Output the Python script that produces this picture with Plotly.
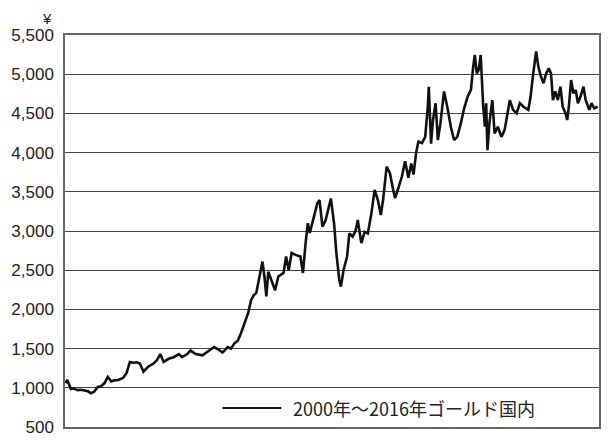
import plotly.graph_objects as go

# gold price in Japan (yen per gram)
years = [
    2000.00, 2000.05, 2000.11, 2000.16, 2000.25, 2000.37, 2000.47, 2000.57, 2000.69, 2000.78,
    2000.88, 2000.99, 2001.09, 2001.20, 2001.30, 2001.41, 2001.50, 2001.62, 2001.77, 2001.88,
    2001.98, 2002.08, 2002.19, 2002.29, 2002.40, 2002.55, 2002.71, 2002.81, 2002.92, 2003.02,
    2003.18, 2003.33, 2003.49, 2003.59, 2003.75, 2003.85, 2004.01, 2004.22, 2004.43, 2004.58,
    2004.74, 2004.84, 2005.00, 2005.10, 2005.21, 2005.31, 2005.41, 2005.52, 2005.63, 2005.72,
    2005.80, 2005.88, 2005.99, 2006.07, 2006.13, 2006.19, 2006.25, 2006.34, 2006.46, 2006.56,
    2006.72, 2006.80, 2006.88, 2006.97, 2007.09, 2007.24, 2007.32, 2007.40, 2007.47, 2007.53,
    2007.63, 2007.76, 2007.83, 2007.92, 2008.02, 2008.09, 2008.18, 2008.28, 2008.35, 2008.44,
    2008.49, 2008.57, 2008.68, 2008.75, 2008.85, 2008.94, 2009.01, 2009.12, 2009.22, 2009.32,
    2009.43, 2009.53, 2009.63, 2009.72, 2009.79, 2009.90, 2010.00, 2010.10, 2010.16, 2010.26,
    2010.37, 2010.47, 2010.57, 2010.66, 2010.73, 2010.81, 2010.88, 2010.99, 2011.09, 2011.17,
    2011.20, 2011.27, 2011.33, 2011.41, 2011.48, 2011.56, 2011.67, 2011.77, 2011.88, 2011.98,
    2012.08, 2012.19, 2012.29, 2012.40, 2012.50, 2012.57, 2012.62, 2012.68, 2012.74, 2012.80,
    2012.84, 2012.88, 2012.93, 2012.97, 2013.01, 2013.07, 2013.16, 2013.23, 2013.33, 2013.44,
    2013.54, 2013.62, 2013.70, 2013.80, 2013.91, 2014.01, 2014.12, 2014.27, 2014.34, 2014.41,
    2014.47, 2014.51, 2014.58, 2014.66, 2014.74, 2014.82, 2014.90, 2014.97, 2015.03, 2015.10,
    2015.18, 2015.26, 2015.33, 2015.42, 2015.47, 2015.52, 2015.59, 2015.66, 2015.73, 2015.80,
    2015.88, 2015.97, 2016.04, 2016.15, 2016.22, 2016.30, 2016.41,
]
prices = [
    1060, 1100, 1040, 985, 990, 970, 975, 963, 955, 930,
    950, 1010, 1020, 1060, 1140, 1080, 1095, 1100, 1125, 1190,
    1330, 1320, 1325, 1310, 1205, 1270, 1310, 1350, 1430, 1330,
    1370, 1390, 1430, 1390, 1430, 1475, 1430, 1415, 1480, 1520,
    1480, 1450, 1520, 1500, 1570, 1600, 1700, 1825, 1955, 2120,
    2180, 2210, 2420, 2610, 2420, 2165, 2480, 2375, 2245, 2420,
    2465, 2675, 2500, 2720, 2695, 2675, 2465, 2845, 3100, 2975,
    3140, 3350, 3395, 3055, 3140, 3265, 3415, 3095, 2715, 2375,
    2290, 2500, 2675, 2970, 2930, 3000, 3140, 2845, 2990, 2970,
    3225, 3525, 3395, 3205, 3395, 3820, 3740, 3525, 3420, 3545,
    3695, 3890, 3680, 3860, 3720, 4000, 4140, 4120, 4200, 4585,
    4840, 4115, 4415, 4630, 4160, 4375, 4780, 4585, 4330, 4160,
    4200, 4375, 4565, 4715, 4800, 5095, 5245, 5010, 5055, 5245,
    4840, 4585, 4330, 4630, 4030, 4375, 4670, 4245, 4330, 4200,
    4290, 4460, 4670, 4545, 4500, 4630, 4585, 4545, 4715, 4970,
    5140, 5290, 5095, 4970, 4885, 5010, 5075, 5010, 4670, 4780,
    4670, 4840, 4585, 4500, 4415, 4585, 4925, 4755, 4800, 4630,
    4715, 4840, 4670, 4545, 4630, 4565, 4585,
]

y_ticks = [500, 1000, 1500, 2000, 2500, 3000, 3500, 4000, 4500, 5000, 5500]
series_name = "2000年～2016年ゴールド国内"
unit_label = "¥"

fig = go.Figure()
fig.add_trace(go.Scatter(
    x=years, y=prices,
    mode="lines",
    line=dict(color="#111111", width=2.6),
    name=series_name,
    showlegend=False,
))

# hand-made legend entry at the lower right
fig.add_shape(type="line", xref="paper", yref="paper",
              x0=0.295, x1=0.405, y0=0.0485, y1=0.0485,
              line=dict(color="#111111", width=2))
fig.add_annotation(text=series_name, xref="paper", yref="paper",
                   x=0.424, y=0.0485, xanchor="left", yanchor="middle",
                   showarrow=False,
                   font=dict(family="Noto Sans CJK JP", size=18, color="#222222"))

# unit mark above the y tick labels, box kept inside the figure
fig.add_annotation(text=unit_label, xref="paper", yref="paper",
                   x=-0.034, y=1.0689, xanchor="center", yanchor="top",
                   showarrow=False,
                   font=dict(family="Liberation Sans", size=15, color="#222222"))

fig.update_xaxes(
    range=[1999.98, 2016.45],
    showticklabels=False, showgrid=False, zeroline=False,
    showline=True, mirror=True, linecolor="#666666", linewidth=1.5,
)
fig.update_yaxes(
    range=[500, 5500],
    tickvals=y_ticks, tickformat=",",
    showgrid=True, gridcolor="#444444", gridwidth=1.2,
    zeroline=False, automargin=False,
    showline=True, mirror=True, linecolor="#666666", linewidth=1.5,
    ticklabelstandoff=6,
    tickfont=dict(family="Liberation Sans", size=17, color="#222222"),
)
# the page body adds an 8px offset, so the figure is a bit smaller than the window
fig.update_layout(
    width=607, height=433,
    margin=dict(l=57, r=16, t=27, b=14),
    paper_bgcolor="white", plot_bgcolor="white",
)

fig.write_html("out.html")
